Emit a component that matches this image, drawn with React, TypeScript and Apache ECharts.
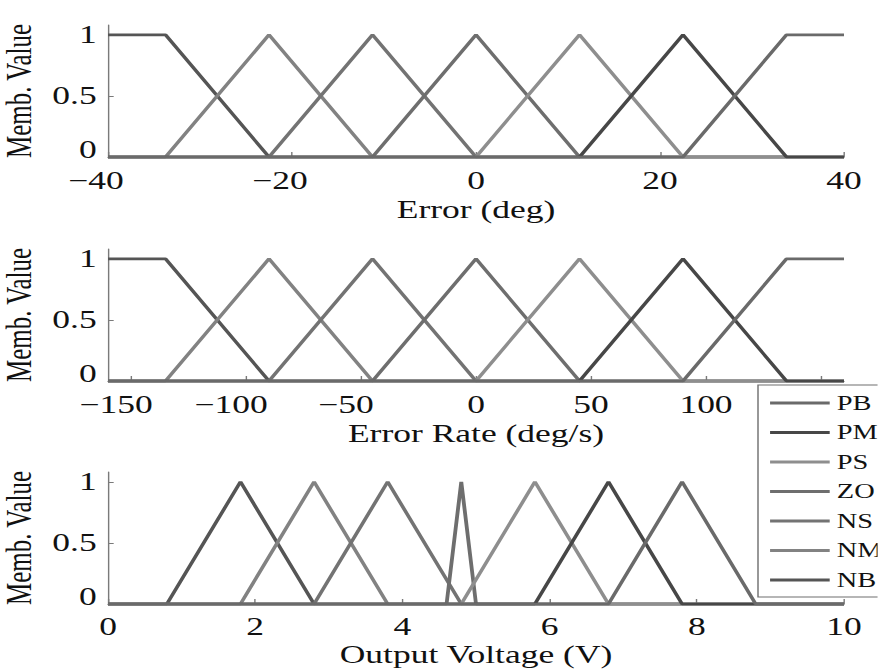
import React, { useEffect, useRef } from "react";
import * as echarts from "echarts";

// ---------- data ----------
const mfNames = ["NB", "NM", "NS", "ZO", "PS", "PM", "PB"];
const legendOrder = ["PB", "PM", "PS", "ZO", "NS", "NM", "NB"];
const mfColors = ["#555555", "#828282", "#737373", "#6e6e6e", "#8e8e8e", "#474747", "#6a6a6a"];

const errorRange = [-40, 40];
const errorParams = [
  [-40, -40, -33.75, -22.5],
  [-33.75, -22.5, -11.25],
  [-22.5, -11.25, 0],
  [-11.25, 0, 11.25],
  [0, 11.25, 22.5],
  [11.25, 22.5, 33.75],
  [22.5, 33.75, 40, 40],
];
const errorTicks = [-40, -20, 0, 20, 40];
const errorLabels = [-40, -20, 0, 20, 40];

const rateRange = [-160, 160];
const rateParams = [
  [-160, -160, -135, -90],
  [-135, -90, -45],
  [-90, -45, 0],
  [-45, 0, 45],
  [0, 45, 90],
  [45, 90, 135],
  [90, 135, 160, 160],
];
const rateTicks = [-150, -100, -50, 0, 50, 100, 150];
const rateLabels = [-150, -100, -50, 0, 50, 100]; // 150 is hidden under the legend

const voltRange = [0, 10];
const voltParams = [
  [0.8, 1.8, 2.8],
  [1.8, 2.8, 3.8],
  [2.8, 3.8, 4.8],
  [4.6, 4.8, 5.0],
  [4.8, 5.8, 6.8],
  [5.8, 6.8, 7.8],
  [6.8, 7.8, 8.8],
];
const voltTicks = [0, 2, 4, 6, 8, 10];
const voltLabels = [0, 2, 4, 6, 8, 10];

const memberTicks = [0, 0.5, 1];
const axisNames = ["Error (deg)", "Error Rate (deg/s)", "Output Voltage (V)"];
const yName = "Memb. Value";

// ---------- layout ----------
const S = 1.42; // horizontal stretch of the reference figure
const W = 878 / S;
const FONT = "'Liberation Serif', 'Times New Roman', serif";
const gridLeft = 108 / S;
const gridWidth = 736 / S;
const gridTops = [25, 249, 472];
const gridHeight = 132;
const labelMargins = [11, 11, 10];
const nameGaps = [40, 40, 38];
const negShift = [17, 21, 0];

function mfPoints(p: number[], range: number[]) {
  const [lo, hi] = range;
  let pts: number[][] =
    p.length === 3
      ? [[p[0], 0], [p[1], 1], [p[2], 0]]
      : [[p[0], 0], [p[1], 1], [p[2], 1], [p[3], 0]];
  if (pts[0][0] === pts[1][0]) pts.shift();
  if (pts[pts.length - 1][0] === pts[pts.length - 2][0]) pts.pop();
  if (pts[0][0] > lo) pts.unshift([lo, 0]);
  if (pts[pts.length - 1][0] < hi) pts.push([hi, 0]);
  return pts;
}

export default function App() {
  const ref = useRef<HTMLDivElement>(null);
  useEffect(() => {
    if (!ref.current) return;
    const chart = echarts.init(ref.current, undefined, { renderer: "svg" });
    const panels = [
      { range: errorRange, params: errorParams, ticks: errorTicks, labels: errorLabels },
      { range: rateRange, params: rateParams, ticks: rateTicks, labels: rateLabels },
      { range: voltRange, params: voltParams, ticks: voltTicks, labels: voltLabels },
    ];
    const axisColor = "#7a7a7a";
    const textColor = "#111111";
    const grid = panels.map((_, k) => ({
      left: gridLeft,
      width: gridWidth,
      top: gridTops[k],
      height: gridHeight,
      containLabel: false,
      outerBoundsMode: "none",
    }));
    const xAxis = panels.map((pn, k) => ({
      type: "value",
      gridIndex: k,
      min: pn.range[0],
      max: pn.range[1],
      name: axisNames[k],
      nameLocation: "middle",
      nameGap: nameGaps[k],
      nameTextStyle: { fontFamily: FONT, fontSize: 25, color: textColor },
      axisLine: { show: true, onZero: false, lineStyle: { color: axisColor, width: 1 } },
      axisTick: {
        show: true,
        inside: true,
        length: 5,
        customValues: pn.ticks,
        lineStyle: { color: axisColor, width: 1 },
      },
      splitLine: { show: false },
      axisLabel: {
        customValues: pn.labels,
        margin: labelMargins[k],
        fontFamily: FONT,
        fontSize: 25,
        color: textColor,
        formatter: (v: number) =>
          v < 0 ? `{n|\u2212${Math.abs(v)}}` : `${v}`,
        rich: {
          n: {
            fontFamily: FONT,
            fontSize: 25,
            color: textColor,
            padding: [0, negShift[k], 0, 0],
          },
        },
      },
    }));
    const yAxis = panels.map((_, k) => ({
      type: "value",
      gridIndex: k,
      min: 0,
      max: 1.08,
      name: yName,
      nameLocation: "middle",
      nameGap: 46,
      nameTextStyle: { fontFamily: FONT, fontSize: 25, color: textColor },
      axisLine: { show: true, onZero: false, lineStyle: { color: axisColor, width: 1 } },
      axisTick: {
        show: true,
        inside: true,
        length: 4,
        customValues: memberTicks,
        lineStyle: { color: axisColor, width: 1 },
      },
      splitLine: { show: false },
      axisLabel: {
        customValues: memberTicks,
        margin: 8,
        fontFamily: FONT,
        fontSize: 25,
        color: textColor,
        formatter: (v: number) => (v === 0 ? "{z|0}" : `${v}`),
        rich: {
          z: {
            fontFamily: FONT,
            fontSize: 25,
            color: textColor,
            padding: [0, 0, 14, 0],
          },
        },
      },
    }));
    const series: any[] = [];
    panels.forEach((pn, k) => {
      mfNames.forEach((name, i) => {
        series.push({
          type: "line",
          name,
          xAxisIndex: k,
          yAxisIndex: k,
          data: mfPoints(pn.params[i], pn.range),
          symbol: "none",
          silent: true,
          clip: false,
          lineStyle: { color: mfColors[i], width: 2.7 },
          itemStyle: { color: mfColors[i] },
        });
      });
    });
    chart.setOption({
      animation: false,
      backgroundColor: "#ffffff",
      grid,
      xAxis,
      yAxis,
      legend: {
        show: true,
        data: legendOrder,
        orient: "vertical",
        left: 758 / S,
        top: 385,
        selectedMode: false,
        icon: "rect",
        itemWidth: 42,
        itemHeight: 3,
        itemGap: 7.5,
        padding: [7, 10, 6, 8.5],
        backgroundColor: "#ffffff",
        borderColor: "#6f6f6f",
        borderWidth: 1,
        textStyle: {
          fontFamily: FONT,
          fontSize: 20,
          color: textColor,
          lineHeight: 22,
        },
      },
      series,
    });
    return () => chart.dispose();
  }, []);
  return (
    <div
      ref={ref}
      style={{
        position: "fixed",
        left: 0,
        top: 0,
        width: W + "px",
        height: "671px",
        transform: `scaleX(${S})`,
        transformOrigin: "0 0",
        background: "#fff",
      }}
    />
  );
}
